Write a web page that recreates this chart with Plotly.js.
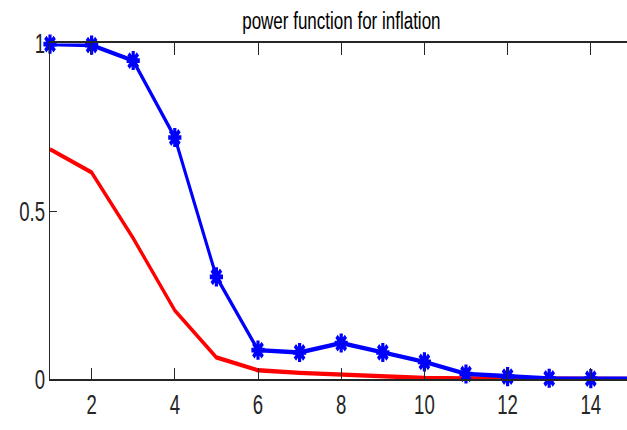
<!DOCTYPE html>
<html>
<head>
<meta charset="utf-8">
<script src="https://cdn.plot.ly/plotly-3.0.1.min.js"></script>
<style>
html,body{margin:0;padding:0;background:#fff;overflow:hidden;width:627px;height:430px;}
#wrap{width:627px;height:430px;overflow:hidden;}
#chart{width:627px;height:297px;transform:scaleY(1.4478);transform-origin:0 0;}
</style>
</head>
<body>
<div id="wrap"><div id="chart"></div></div>
<script>
const horizons = [1,2,3,4,5,6,7,8,9,10,11,12,13,14,15];
const powerBlue = [0.998,0.995,0.949,0.720,0.305,0.087,0.080,0.108,0.080,0.052,0.016,0.008,0.003,0.002,0.002];
const powerRed  = [0.685,0.616,0.420,0.205,0.065,0.027,0.019,0.013,0.007,0.004,0.003,0.002,0.001,0.001,0.001];
const xTicks = [2,4,6,8,10,12,14];
const yTicks = [0,0.5,1];
const yTickText = ['0','0.5','1'];
const titleText = 'power function for inflation';

const FONT = 'Liberation Sans Narrow, Arial Narrow, sans-serif';
const traces = [
  {x: horizons, y: powerRed, type:'scatter', mode:'lines',
   line:{color:'#ff0000', width:3}, cliponaxis:false, hoverinfo:'skip'},
  {x: horizons, y: powerBlue, type:'scatter', mode:'lines+markers',
   line:{color:'#0000ff', width:3},
   marker:{symbol:'asterisk-open', size:11, color:'#0000ff', line:{color:'#0000ff', width:3.2}},
   cliponaxis:false, hoverinfo:'skip'}
];
const layout = {
  width:627, height:297,
  margin:{l:50, r:0, t:29.7, b:35.2, pad:0},
  paper_bgcolor:'#ffffff', plot_bgcolor:'#ffffff',
  showlegend:false,
  title:{text:titleText, font:{family:FONT, size:17, color:'#000000'},
         x:0.505, xref:'paper', xanchor:'center', y:1-14/297, yref:'container', yanchor:'middle'},
  xaxis:{range:[1, 1+577/41.6], tickvals:xTicks, ticktext:xTicks.map(String),
         ticks:'inside', ticklen:8, tickwidth:1, tickcolor:'#262626',
         showline:true, linecolor:'#262626', linewidth:1.4, mirror:'ticks',
         showgrid:false, zeroline:false,
         tickfont:{family:FONT, size:18.6, color:'#262626'}},
  yaxis:{range:[0,1], tickvals:yTicks, ticktext:yTickText,
         ticks:'inside', ticklen:7, tickwidth:1, tickcolor:'#262626',
         showline:true, linecolor:'#262626', linewidth:1.2, mirror:false,
         showgrid:false, zeroline:false,
         tickfont:{family:FONT, size:18.6, color:'#262626'}}
};
Plotly.newPlot('chart', traces, layout, {staticPlot:true, displayModeBar:false});
</script>
</body>
</html>
